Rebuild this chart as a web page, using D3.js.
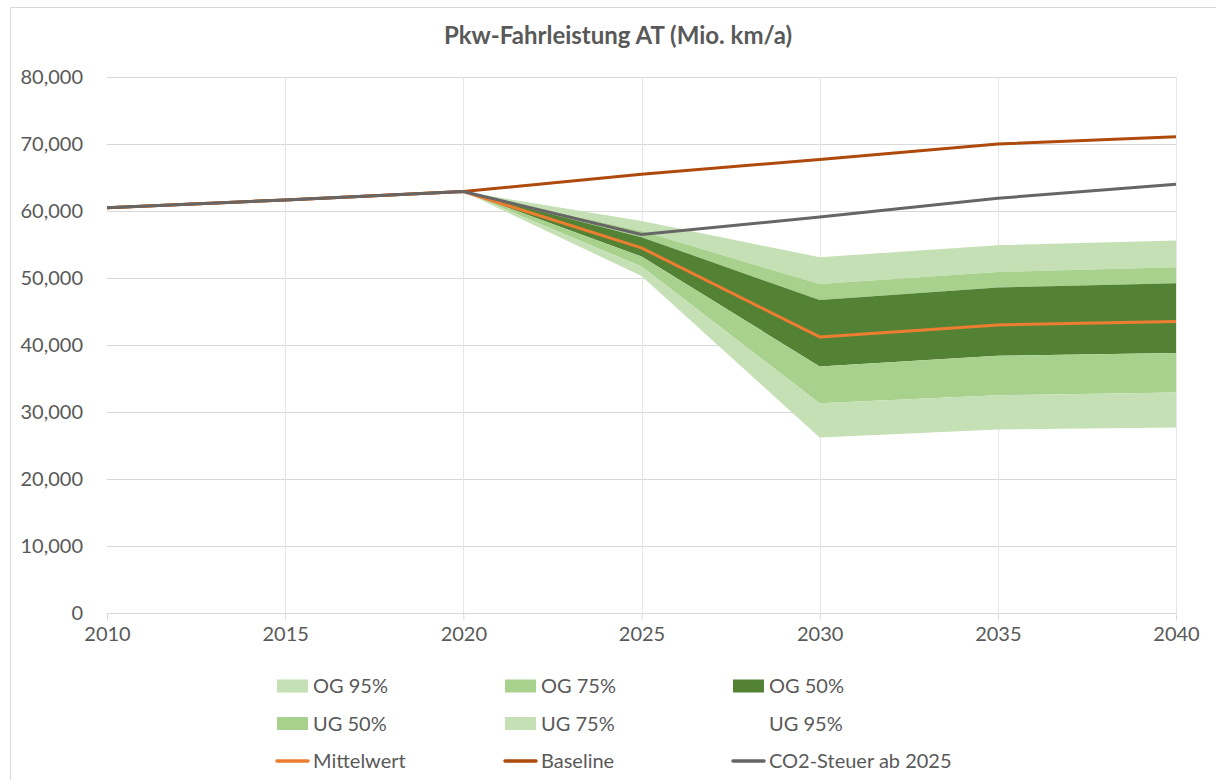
<!DOCTYPE html>
<html>
<head>
<meta charset="utf-8">
<script src="https://cdn.jsdelivr.net/npm/d3@7"></script>
<style>
  html, body { margin: 0; padding: 0; background: #fff; }
  svg { display: block; font-family: Lato, "Open Sans", sans-serif; }
</style>
</head>
<body>
<svg id="chart" width="1216" height="780"></svg>
<script>
// ---- data ----
const years = [2010, 2015, 2020, 2025, 2030, 2035, 2040];
const og95 = [60500, 61650, 62900, 58500, 53100, 54900, 55600];
const og75 = [60500, 61650, 62900, 57000, 49100, 50900, 51600];
const og50 = [60500, 61650, 62900, 56100, 46700, 48600, 49200];
const ug50 = [60500, 61650, 62900, 53200, 36800, 38400, 38800];
const ug75 = [60500, 61650, 62900, 51700, 31300, 32500, 32900];
const ug95 = [60500, 61650, 62900, 50300, 26200, 27400, 27700];
const mittelwert = [60500, 61650, 62900, 54500, 41200, 43000, 43500];
const baseline = [60500, 61650, 62900, 65500, 67700, 70000, 71100];
const co2Steuer = [60500, 61650, 62900, 56500, 59100, 61900, 64000];
const yTicks = [0, 10000, 20000, 30000, 40000, 50000, 60000, 70000, 80000];
const title = "Pkw-Fahrleistung AT (Mio. km/a)";

// bands: name, upper bound, lower bound, colour
const bands = [
  { name: "OG 95%", hi: og95, lo: og75, color: "#C5E0B4" },
  { name: "OG 75%", hi: og75, lo: og50, color: "#A9D18E" },
  { name: "OG 50%", hi: og50, lo: ug50, color: "#548235" },
  { name: "UG 50%", hi: ug50, lo: ug75, color: "#A9D18E" },
  { name: "UG 75%", hi: ug75, lo: ug95, color: "#C5E0B4" },
  { name: "UG 95%", hi: ug95, lo: null, color: null }
];
const lines = [
  { name: "Mittelwert", values: mittelwert, color: "#ED7D31" },
  { name: "Baseline", values: baseline, color: "#AE4A0C" },
  { name: "CO2-Steuer ab 2025", values: co2Steuer, color: "#666666" }
];

const svg = d3.select("#chart");
const textColor = "#595959";

// chart border
svg.append("rect").attr("x", 10.5).attr("y", 7.5).attr("width", 1220).attr("height", 800)
  .attr("fill", "#fff").attr("stroke", "#D9D9D9").attr("stroke-width", 1);

const x = d3.scaleLinear().domain([2010, 2040]).range([107, 1176]);
const y = d3.scaleLinear().domain([0, 80000]).range([613, 77]);

// title
svg.append("text").attr("x", 618).attr("y", 44).attr("text-anchor", "middle")
  .attr("font-weight", "bold").attr("font-size", 24).attr("fill", textColor).text(title);

// gridlines
const g = svg.append("g");
g.selectAll(".hgrid").data(yTicks.filter(d => d > 0)).join("line")
  .attr("x1", x(2010)).attr("x2", x(2040))
  .attr("y1", d => Math.round(y(d)) + 0.5).attr("y2", d => Math.round(y(d)) + 0.5)
  .attr("stroke", "#D9D9D9").attr("stroke-width", 1);
g.selectAll(".vgrid").data(years.filter(d => d > 2010)).join("line")
  .attr("x1", d => Math.round(x(d)) + 0.5).attr("x2", d => Math.round(x(d)) + 0.5)
  .attr("y1", y(80000)).attr("y2", y(0))
  .attr("stroke", "#E6E6E6").attr("stroke-width", 1);

// y axis labels
const yAxis = d3.axisLeft(y).tickValues(yTicks).tickSize(0).tickPadding(0)
  .tickFormat(d3.format(","));
const yg = svg.append("g").attr("transform", "translate(83,0)").call(yAxis);
yg.select(".domain").remove();
yg.selectAll("text").attr("font-size", 20).attr("fill", textColor)
  .attr("font-family", "Lato, 'Open Sans', sans-serif");

// x axis
const xAxis = d3.axisBottom(x).tickValues(years).tickSize(7).tickPadding(6)
  .tickFormat(d3.format("d"));
const xg = svg.append("g").attr("transform", "translate(0,613.5)").call(xAxis);
xg.select(".domain").attr("stroke", "#D9D9D9").attr("d", `M${x(2010)},0H${x(2040)}`);
xg.selectAll(".tick line").attr("stroke", "#D9D9D9");
xg.selectAll("text").attr("font-size", 20).attr("fill", textColor)
  .attr("font-family", "Lato, 'Open Sans', sans-serif");

// bands
bands.filter(b => b.color).forEach(b => {
  const area = d3.area()
    .x((d, i) => x(years[i]))
    .y0((d, i) => y(b.lo[i]))
    .y1((d, i) => y(b.hi[i]));
  svg.append("path").datum(years).attr("d", area).attr("fill", b.color);
});

// lines
lines.forEach(l => {
  const line = d3.line().x((d, i) => x(years[i])).y(d => y(d));
  svg.append("path").datum(l.values).attr("d", line).attr("fill", "none")
    .attr("stroke", l.color).attr("stroke-width", 3).attr("stroke-linejoin", "round");
});

// legend
const legendItems = bands.map(b => ({ name: b.name, type: "box", color: b.color }))
  .concat(lines.map(l => ({ name: l.name, type: "line", color: l.color })));
const colX = [277, 505, 733];
const rowY = [686, 723.5, 761];
const leg = svg.append("g");
legendItems.forEach((it, i) => {
  const cx = colX[i % 3], cy = rowY[Math.floor(i / 3)];
  if (it.type === "box" && it.color) {
    leg.append("rect").attr("x", cx).attr("y", cy - 6.5).attr("width", 31).attr("height", 13)
      .attr("fill", it.color);
  } else if (it.type === "line") {
    leg.append("line").attr("x1", cx).attr("x2", cx + 31).attr("y1", cy).attr("y2", cy)
      .attr("stroke", it.color).attr("stroke-width", 3.5).attr("stroke-linecap", "round");
  }
  leg.append("text").attr("x", cx + 36).attr("y", cy).attr("dy", "0.35em")
    .attr("font-size", 20).attr("fill", textColor).text(it.name);
});
</script>
</body>
</html>
